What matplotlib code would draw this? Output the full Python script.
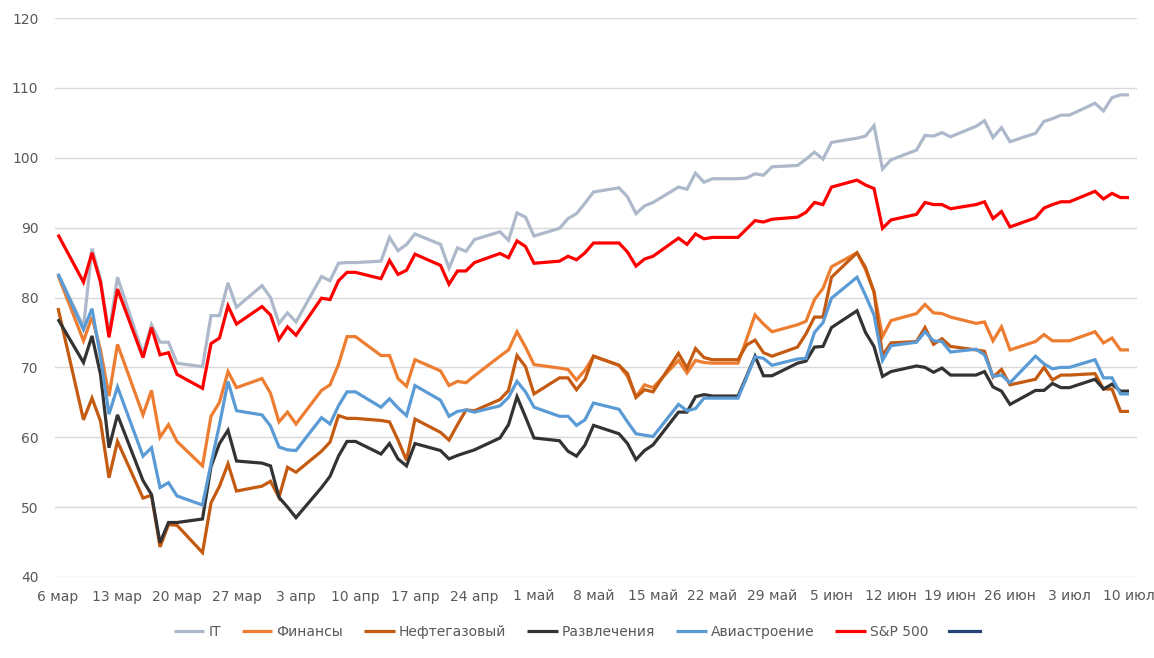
import matplotlib
matplotlib.use("Agg")
import matplotlib.pyplot as plt
import matplotlib.dates as mdates
import pandas as pd

# weekdays from 6 Mar to 10 Jul 2020 (holidays carry the previous value)
dates = pd.bdate_range("2020-03-06", "2020-07-10")

it = [83.4,
      75.8, 87.0, 82.6, 74.8, 82.9,
      71.9, 76.1, 73.6, 73.6, 70.6,
      70.1, 77.4, 77.4, 82.1, 78.6,
      81.7, 80.0, 76.3, 77.8, 76.5,
      83.0, 82.4, 84.9, 85.0, 85.0,
      85.2, 88.6, 86.7, 87.6, 89.1,
      87.6, 84.2, 87.1, 86.6, 88.3,
      89.4, 88.2, 92.1, 91.5, 88.8,
      89.9, 91.3, 92.0, 93.5, 95.1,
      95.7, 94.4, 92.0, 93.1, 93.6,
      95.8, 95.5, 97.8, 96.5, 97.0,
      97.0, 97.1, 97.7, 97.5, 98.7,
      98.9, 99.8, 100.8, 99.8, 102.2,
      102.8, 103.1, 104.6, 98.4, 99.7,
      101.1, 103.2, 103.1, 103.6, 103.0,
      104.5, 105.3, 102.9, 104.3, 102.3,
      103.5, 105.2, 105.6, 106.1, 106.1,
      107.8, 106.7, 108.6, 109.0, 109.0]

finance = [83.2,
           73.8, 77.2, 72.5, 65.9, 73.3,
           63.2, 66.7, 60.0, 61.8, 59.4,
           55.9, 63.0, 65.0, 69.4, 67.1,
           68.4, 66.3, 62.2, 63.6, 61.9,
           66.7, 67.5, 70.4, 74.4, 74.4,
           71.7, 71.7, 68.4, 67.3, 71.1,
           69.5, 67.4, 68.0, 67.8, 68.8,
           71.6, 72.5, 75.1, 72.9, 70.4,
           69.9, 69.7, 68.2, 69.6, 71.6,
           70.3, 68.7, 65.8, 67.5, 67.1,
           71.0, 69.2, 71.0, 70.7, 70.6,
           70.6, 74.0, 77.5, 76.2, 75.1,
           76.1, 76.6, 79.7, 81.3, 84.4,
           86.4, 84.0, 80.8, 74.4, 76.7,
           77.7, 79.0, 77.8, 77.7, 77.2,
           76.3, 76.5, 73.8, 75.8, 72.5,
           73.7, 74.7, 73.8, 73.8, 73.8,
           75.1, 73.5, 74.2, 72.5, 72.5]

oil_gas = [78.5,
           62.5, 65.6, 62.3, 54.2, 59.4,
           51.3, 51.7, 44.3, 47.5, 47.4,
           43.5, 50.6, 53.0, 56.2, 52.3,
           53.0, 53.7, 51.4, 55.7, 55.0,
           58.0, 59.3, 63.1, 62.7, 62.7,
           62.4, 62.2, 59.6, 56.7, 62.6,
           60.7, 59.6, 61.8, 63.9, 63.8,
           65.4, 66.7, 71.7, 70.1, 66.2,
           68.5, 68.5, 66.8, 68.3, 71.6,
           70.3, 69.1, 65.7, 66.8, 66.5,
           72.0, 69.9, 72.7, 71.4, 71.1,
           71.1, 73.2, 73.9, 72.1, 71.6,
           72.9, 74.8, 77.2, 77.2, 82.9,
           86.4, 84.3, 80.8, 71.7, 73.5,
           73.7, 75.7, 73.3, 74.1, 73.0,
           72.5, 72.3, 68.6, 69.7, 67.5,
           68.3, 70.0, 68.2, 68.9, 68.9,
           69.1, 66.9, 66.9, 63.7, 63.7]

entertainment = [76.9,
                 70.7, 74.5, 69.0, 58.5, 63.2,
                 53.8, 51.8, 44.9, 47.8, 47.8,
                 48.3, 55.8, 59.1, 61.0, 56.6,
                 56.3, 55.9, 51.4, 50.0, 48.5,
                 52.8, 54.4, 57.3, 59.4, 59.4,
                 57.6, 59.1, 56.9, 55.9, 59.1,
                 58.1, 56.9, 57.4, 57.8, 58.2,
                 59.9, 61.8, 65.8, 62.9, 59.9,
                 59.5, 58.0, 57.3, 58.9, 61.7,
                 60.5, 59.1, 56.8, 58.1, 58.9,
                 63.6, 63.6, 65.8, 66.1, 65.9,
                 65.9, 68.7, 71.6, 68.8, 68.8,
                 70.6, 70.9, 72.9, 73.0, 75.7,
                 78.1, 75.0, 73.0, 68.7, 69.4,
                 70.2, 70.0, 69.3, 69.9, 68.9,
                 68.9, 69.4, 67.2, 66.6, 64.7,
                 66.7, 66.7, 67.7, 67.1, 67.1,
                 68.3, 66.9, 67.6, 66.6, 66.6]

aviation = [83.4,
            75.4, 78.4, 71.5, 63.3, 67.2,
            57.3, 58.5, 52.8, 53.5, 51.6,
            50.3, 56.2, 61.8, 68.0, 63.8,
            63.2, 61.6, 58.6, 58.2, 58.1,
            62.8, 61.9, 64.5, 66.5, 66.5,
            64.3, 65.5, 64.2, 63.1, 67.4,
            65.3, 63.0, 63.7, 63.9, 63.6,
            64.5, 65.7, 68.0, 66.5, 64.3,
            63.0, 63.0, 61.7, 62.5, 64.9,
            64.0, 62.2, 60.5, 60.3, 60.1,
            64.7, 63.8, 64.1, 65.6, 65.6,
            65.6, 68.5, 71.5, 71.3, 70.3,
            71.2, 71.3, 75.0, 76.4, 79.9,
            82.9, 80.3, 77.5, 71.0, 73.1,
            73.6, 75.1, 73.8, 73.7, 72.2,
            72.6, 71.8, 68.7, 68.9, 67.8,
            71.6, 70.5, 69.8, 70.0, 70.0,
            71.1, 68.5, 68.5, 66.2, 66.2]

sp500 = [89.0,
         82.2, 86.4, 82.2, 74.3, 81.2,
         71.4, 75.7, 71.8, 72.1, 69.0,
         67.0, 73.4, 74.2, 78.8, 76.2,
         78.7, 77.5, 74.0, 75.8, 74.6,
         79.9, 79.7, 82.4, 83.6, 83.6,
         82.7, 85.3, 83.3, 83.9, 86.2,
         84.6, 81.9, 83.8, 83.8, 85.0,
         86.3, 85.7, 88.1, 87.3, 84.9,
         85.2, 85.9, 85.4, 86.4, 87.8,
         87.8, 86.5, 84.5, 85.5, 85.9,
         88.5, 87.6, 89.1, 88.4, 88.6,
         88.6, 89.8, 91.0, 90.8, 91.2,
         91.5, 92.2, 93.6, 93.3, 95.8,
         96.8, 96.1, 95.6, 89.9, 91.1,
         91.9, 93.6, 93.3, 93.3, 92.7,
         93.3, 93.7, 91.3, 92.3, 90.1,
         91.4, 92.8, 93.3, 93.7, 93.7,
         95.2, 94.1, 94.9, 94.3, 94.3]

series = [
    ("IT", it, "#ADB9CA"),
    ("Финансы", finance, "#ED7D31"),
    ("Нефтегазовый", oil_gas, "#C55A11"),
    ("Развлечения", entertainment, "#333333"),
    ("Авиастроение", aviation, "#5B9BD5"),
    ("S&P 500", sp500, "#FF0000"),
]

months_ru = {3: "мар", 4: "апр", 5: "май", 6: "июн", 7: "июл"}
tick_dates = pd.date_range("2020-03-06", "2020-07-10", freq="7D")
tick_labels = [f"{d.day} {months_ru[d.month]}" for d in tick_dates]

plt.rcParams["font.family"] = ["DejaVu Sans"]
text_color = "#595959"

fig = plt.figure(figsize=(11.54, 6.58), dpi=100)
ax = fig.add_axes([55 / 1154, 1 - 577 / 658, 1082 / 1154, 559 / 658])

for name, values, color in series:
    ax.plot(dates, values, color=color, lw=2.3, label=name,
            solid_joinstyle="miter", solid_capstyle="butt")
# empty series that only shows up in the legend
ax.plot([], [], color="#264478", lw=2.3, label=" ")

px_per_day = 8.5
start = mdates.date2num(dates[0]) - 3 / px_per_day
ax.set_xlim(start, start + 1082 / px_per_day)
ax.set_ylim(40, 120)
ax.set_yticks(range(40, 121, 10))
ax.set_xticks(tick_dates)
ax.set_xticklabels(tick_labels)

ax.grid(axis="y", color="#D9D9D9", lw=1)
ax.set_axisbelow(True)
for s in ax.spines.values():
    s.set_visible(False)
ax.tick_params(axis="y", length=0, pad=12, labelsize=10, labelcolor=text_color)
ax.tick_params(axis="x", length=0, pad=9, labelsize=10, labelcolor=text_color)

leg = fig.legend(loc="center", bbox_to_anchor=(581 / 1154, 1 - 632 / 658),
                 ncol=7, frameon=False, fontsize=10, handlelength=2.2,
                 handletextpad=0.3, columnspacing=1.5)
for t in leg.get_texts():
    t.set_color(text_color)

fig.savefig("out.png", dpi=100)
